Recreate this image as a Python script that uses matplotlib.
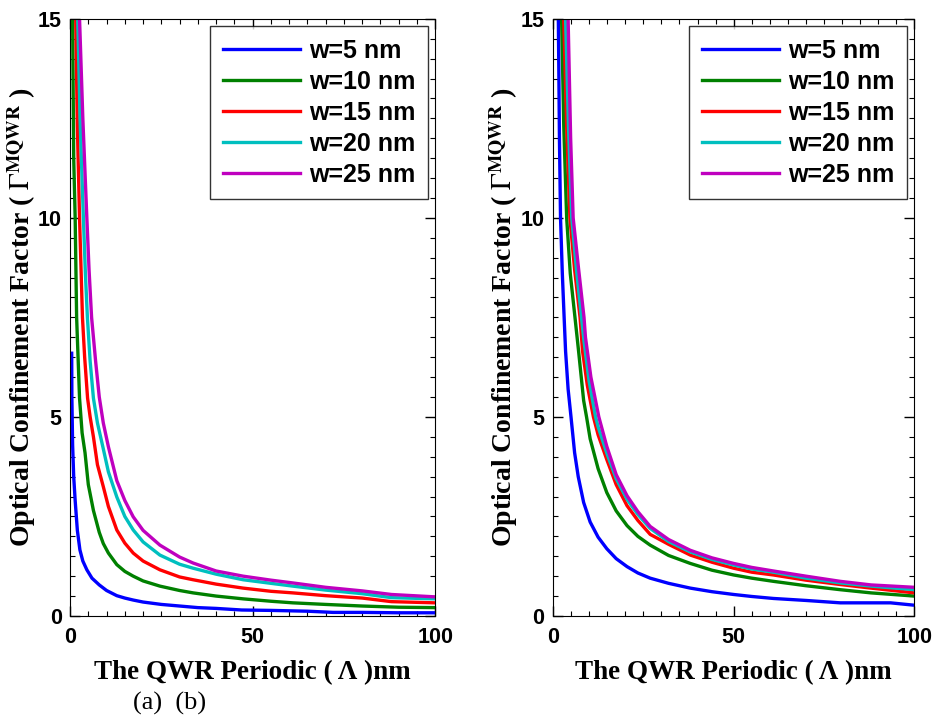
import numpy as np
import matplotlib
matplotlib.use('Agg')
import matplotlib.pyplot as plt
from matplotlib.ticker import MultipleLocator

plt.rcParams['mathtext.fontset'] = 'stix'

labels = ['w=5 nm', 'w=10 nm', 'w=15 nm', 'w=20 nm', 'w=25 nm']
colors = ['#0000ff', '#008000', '#ff0000', '#00bfbf', '#bf00bf']

# panel (a) : periodic (nm) vs confinement factor
xa = [
    [0.45, 0.5, 0.7, 1.0, 1.4, 2.0, 2.7, 3.5, 4.6, 6, 8, 10, 12.8, 15, 17.3, 20, 25, 30, 35, 40, 47, 55, 65, 72, 80, 90, 100],
    [0.7, 1.0, 1.4, 1.8, 2.6, 3.3, 4.1, 5, 6.4, 8, 9.1, 10.5, 12.8, 15, 17.3, 20, 24.6, 30, 33.7, 40, 47.4, 55, 61, 70, 80, 90, 100],
    [1.55, 2.0, 2.6, 3.4, 4.0, 4.8, 5.5, 6.4, 7.5, 9.1, 10.5, 12.8, 15, 17.3, 20, 24.6, 30, 33.7, 40, 47.4, 55, 61, 70, 80, 88, 100],
    [2.1, 2.8, 3.65, 4.2, 4.75, 5.5, 6.4, 7.5, 9.1, 10.5, 12.8, 15, 17.3, 20, 24.6, 30, 33.7, 40, 47.4, 55, 61, 70, 80, 88, 100],
    [2.6, 3.5, 4.6, 5.2, 5.9, 7.0, 8.0, 9.1, 10.5, 12.8, 15, 17.3, 20, 24.6, 30, 33.7, 40, 47.4, 55, 61, 70, 80, 88, 100],
]
ya = [
    [6.6, 5.5, 4.3, 3.5, 2.9, 2.15, 1.66, 1.38, 1.16, 0.95, 0.78, 0.64, 0.51, 0.45, 0.40, 0.35, 0.29, 0.25, 0.21, 0.19, 0.15, 0.14, 0.12, 0.09, 0.09, 0.08, 0.08],
    [15, 11.5, 10, 7.5, 5.47, 4.6, 4.1, 3.3, 2.65, 2.1, 1.82, 1.58, 1.29, 1.12, 1.0, 0.88, 0.75, 0.64, 0.58, 0.50, 0.43, 0.37, 0.33, 0.29, 0.25, 0.22, 0.21],
    [15, 12.3, 10, 7.5, 6.5, 5.47, 5.0, 4.5, 3.8, 3.25, 2.75, 2.16, 1.83, 1.58, 1.38, 1.16, 0.98, 0.91, 0.80, 0.70, 0.62, 0.58, 0.51, 0.45, 0.36, 0.33],
    [15, 12.3, 10, 8.6, 7.5, 6.4, 5.47, 4.85, 4.2, 3.62, 2.99, 2.5, 2.16, 1.86, 1.53, 1.3, 1.2, 1.05, 0.91, 0.82, 0.75, 0.65, 0.56, 0.46, 0.43],
    [15, 12.5, 10, 8.7, 7.5, 6.4, 5.5, 4.85, 4.25, 3.4, 2.9, 2.49, 2.15, 1.78, 1.48, 1.33, 1.13, 1.0, 0.9, 0.83, 0.72, 0.63, 0.54, 0.48],
]

# panel (b)
xb = [
    [1.5, 1.8, 2.1, 2.6, 3.1, 3.5, 4.2, 5.0, 6.0, 7.0, 8.5, 10.3, 12.5, 14.9, 17.5, 20.5, 23.5, 26.9, 32, 38, 44, 50, 55, 61, 70, 79.5, 88, 93.4, 100],
    [2.4, 3.0, 3.8, 4.8, 6.1, 7.1, 8.5, 9.3, 10.3, 12.5, 14.9, 17.5, 20.5, 23.5, 26.9, 32, 38, 44, 50, 55, 61, 70, 79.5, 88, 100],
    [3.0, 3.8, 4.7, 6.0, 7.5, 8.2, 9.5, 11.2, 12.5, 14.9, 17.5, 20.5, 23.5, 26.9, 32, 38, 44, 50, 55, 61, 70, 79.5, 88, 100],
    [3.5, 4.3, 5.2, 6.5, 7.9, 8.6, 10.0, 11.8, 12.5, 14.9, 17.5, 20.5, 23.5, 26.9, 32, 38, 44, 50, 55, 61, 70, 79.5, 88, 100],
    [4.2, 4.9, 5.6, 7.0, 8.6, 9.0, 10.5, 12.7, 14.9, 17.5, 20.5, 23.5, 26.9, 32, 38, 44, 50, 55, 61, 70, 79.5, 88, 100],
]
yb = [
    [15, 12, 10, 8.6, 7.5, 6.65, 5.7, 5.0, 4.1, 3.5, 2.85, 2.36, 1.98, 1.69, 1.44, 1.24, 1.08, 0.95, 0.82, 0.70, 0.61, 0.54, 0.49, 0.44, 0.39, 0.33, 0.33, 0.33, 0.27],
    [15, 12.3, 10, 8.6, 7.5, 6.65, 5.41, 5.0, 4.45, 3.7, 3.1, 2.64, 2.27, 2.0, 1.78, 1.52, 1.32, 1.15, 1.03, 0.95, 0.87, 0.76, 0.66, 0.58, 0.5],
    [15, 12.3, 10, 8.7, 7.5, 6.65, 5.8, 5.0, 4.55, 3.93, 3.3, 2.77, 2.4, 2.05, 1.8, 1.53, 1.35, 1.2, 1.1, 1.03, 0.9, 0.79, 0.7, 0.58],
    [15, 12.3, 10, 8.7, 7.5, 6.9, 5.9, 5.0, 4.75, 4.09, 3.45, 2.93, 2.55, 2.2, 1.87, 1.61, 1.42, 1.28, 1.18, 1.1, 0.95, 0.83, 0.75, 0.66],
    [15, 12.0, 10, 8.8, 7.5, 7.0, 6.0, 5.0, 4.26, 3.55, 3.02, 2.62, 2.25, 1.92, 1.65, 1.46, 1.32, 1.22, 1.13, 1.0, 0.87, 0.78, 0.72],
]

fig = plt.figure(figsize=(9.34, 7.16), dpi=100)
ax1 = fig.add_axes([0.075, 0.1397, 0.391, 0.834])
ax2 = fig.add_axes([0.592, 0.1397, 0.387, 0.834])

ylab = r'Optical Confinement Factor ( $\Gamma^{\mathbf{MQWR}}$ )'
xlab = 'The QWR Periodic ( \u039b )nm'

for ax, xs, ys in [(ax1, xa, ya), (ax2, xb, yb)]:
    for x, y, c, lab in zip(xs, ys, colors, labels):
        ax.plot(x, y, color=c, linewidth=2.4, label=lab)
    ax.set_xlim(0, 100)
    ax.set_ylim(0, 15)
    ax.xaxis.set_major_locator(MultipleLocator(50))
    ax.xaxis.set_minor_locator(MultipleLocator(5))
    ax.yaxis.set_major_locator(MultipleLocator(5))
    ax.yaxis.set_minor_locator(MultipleLocator(0.5))
    ax.tick_params(which='both', direction='in', top=True, right=True)
    ax.tick_params(which='major', length=7, width=1)
    ax.tick_params(which='minor', length=3.5, width=0.8)
    ax.tick_params(axis='x', pad=8)
    ax.tick_params(axis='y', pad=6)
    for lb in ax.get_xticklabels() + ax.get_yticklabels():
        lb.set_fontfamily('Liberation Sans')
        lb.set_fontweight('bold')
        lb.set_fontsize(15.5)
    ax.set_xlabel(xlab, fontsize=19.5, fontweight='bold', family='Liberation Serif', labelpad=9)
    ax.set_ylabel(ylab, fontsize=20, fontweight='bold', family='Liberation Serif')
    leg = ax.legend(loc='upper right', fancybox=False, edgecolor='black', handlelength=3.1,
                    handletextpad=0.35, borderpad=0.5,
                    prop={'family': 'Liberation Sans', 'weight': 'bold', 'size': 18},
                    borderaxespad=0.3, labelspacing=0.28)
    leg.get_frame().set_linewidth(1.0)

ax1.yaxis.set_label_coords(-0.087, 0.5)
ax2.yaxis.set_label_coords(-0.092, 0.5)

fig.text(0.1425, 0.009, '(a)  (b)', fontsize=19, family='Liberation Serif', va='baseline')

plt.savefig('out.png', dpi=100)
plt.close()
